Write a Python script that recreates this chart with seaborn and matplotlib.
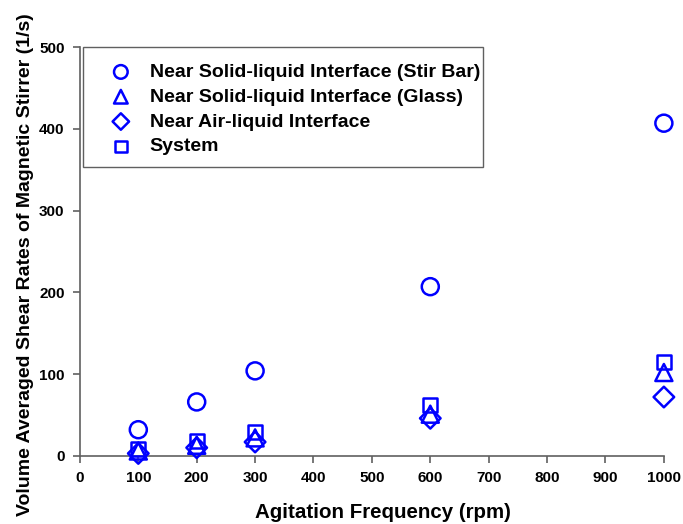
import matplotlib
matplotlib.use("Agg")
import matplotlib.pyplot as plt
from matplotlib.patches import Rectangle
import seaborn as sns
import pandas as pd

# Agitation frequencies (rpm)
rpm = [100, 200, 300, 600, 1000]

# Volume averaged shear rates (1/s)
stir_bar = [32, 66, 104, 207, 407]
glass = [6, 13, 22, 51, 102]
air_liquid = [3, 10, 17, 46, 72]
system = [8, 18, 29, 62, 115]

series_labels = [
    "Near Solid-liquid Interface (Stir Bar)",
    "Near Solid-liquid Interface (Glass)",
    "Near Air-liquid Interface",
    "System",
]
series_values = [stir_bar, glass, air_liquid, system]
series_markers = ["o", "^", "D", "s"]
series_sizes = [150, 150, 110, 105]

sns.set_theme(style="white")
plt.rcParams["font.family"] = ["Liberation Sans", "DejaVu Sans"]
plt.rcParams["font.weight"] = "bold"
plt.rcParams["text.color"] = "black"
plt.rcParams["axes.labelcolor"] = "black"
plt.rcParams["xtick.color"] = "black"
plt.rcParams["ytick.color"] = "black"

fig = plt.figure(figsize=(6.83, 5.24), dpi=100)
ax = fig.add_axes([0.117, 0.130, 0.855, 0.780])

blue = "#0000FF"
for label, vals, mk, sz in zip(series_labels, series_values, series_markers, series_sizes):
    df = pd.DataFrame({"rpm": rpm, "rate": vals})
    sns.scatterplot(data=df, x="rpm", y="rate", marker=mk, s=sz,
                    facecolor="none", edgecolor=blue, linewidth=1.8,
                    ax=ax, label=label, legend=False, clip_on=False, zorder=3)

ax.set_xlim(0, 1000)
ax.set_ylim(0, 500)
ax.set_xticks(range(0, 1001, 100))
ax.set_yticks(range(0, 501, 100))

for side in ["top", "right"]:
    ax.spines[side].set_visible(False)
for side in ["left", "bottom"]:
    ax.spines[side].set_color("#606060")
    ax.spines[side].set_linewidth(1.2)

ax.tick_params(axis="both", which="major", direction="out", length=5,
               width=1.2, color="#606060", labelcolor="black", labelsize=11,
               pad=6, bottom=True, left=True)
for t in ax.get_xticklabels() + ax.get_yticklabels():
    t.set_fontweight("bold")

ax.set_xlabel("Agitation Frequency (rpm)", fontsize=14.8, fontweight="bold",
              labelpad=13, color="black")
ax.xaxis.label.set_x(0.519)
ax.set_ylabel("Volume Averaged Shear Rates of Magnetic Stirrer (1/s)",
              fontsize=14, fontweight="bold", labelpad=4, color="black")
ax.yaxis.label.set_y(0.467)

# legend box, drawn separately so it hugs the text on the right
fig.patches.append(Rectangle((0.1215, 0.6813), 0.5857, 0.2290,
                             transform=fig.transFigure, fill=True,
                             facecolor="white", edgecolor="#606060",
                             linewidth=1.0, zorder=4))

h, l = ax.get_legend_handles_labels()
leg = fig.legend(h, l, loc="upper left", bbox_to_anchor=(0.157, 0.879),
                 frameon=False, prop={"weight": "bold", "size": 14},
                 handlelength=1.4, handletextpad=0.79, borderpad=0,
                 labelspacing=0.37, markerscale=0.8, borderaxespad=0)
leg.set_zorder(5)
for txt in leg.get_texts():
    txt.set_color("black")

fig.savefig("out.png", dpi=100)
